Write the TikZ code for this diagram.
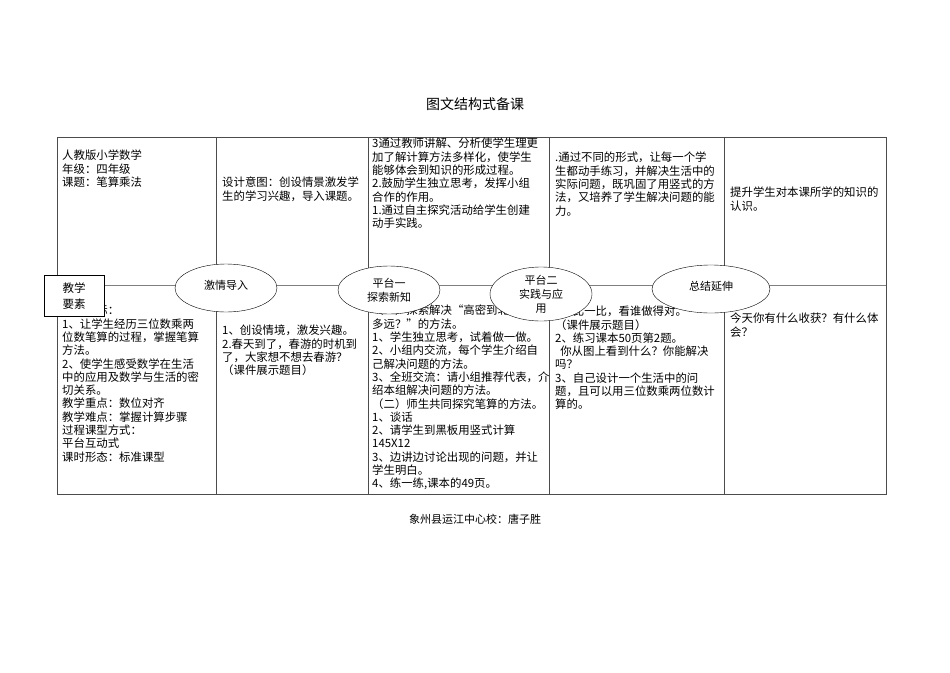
\documentclass[tikz,border=0pt]{standalone}
\usepackage{fontspec}
\setmainfont{Noto Sans CJK SC}
\usetikzlibrary{shapes.geometric}
\begin{document}
\begin{tikzpicture}[x=1pt,y=-1pt,
  txt/.style={anchor=north west,inner sep=0pt,align=left,font=\fontsize{11.4}{13.3}\selectfont},
  oval/.style={ellipse,draw,fill=white,inner sep=0pt,minimum width=102,minimum height=48,align=center,font=\fontsize{11}{14}\selectfont},
  ln/.style={draw=black!70,line width=0.6pt}]
\useasboundingbox (0,0) rectangle (950,672);
\node (title) at (475,104) {\fontsize{14}{16}\selectfont 图文结构式备课};
\node (foot) at (475,519) {\fontsize{11}{13}\selectfont 象州县运江中心校：唐子胜};
\draw[ln] (57,137) rectangle (886,494);
\draw[draw=black!50,line width=0.8pt] (57,285) -- (886,285);
\foreach \x in {216,368,549,724} \draw[ln] (\x,137) -- (\x,494);
% top cells
\node[txt] (t1) at (62,150) {人教版小学数学\\年级：四年级\\课题：笔算乘法};
\node[txt] (t2) at (222,177) {设计意图：创设情景激发学\\生的学习兴趣，导入课题。};
\node[txt] (t3) at (372,138) {3通过教师讲解、分析使学生理更\\加了解计算方法多样化，使学生\\能够体会到知识的形成过程。\\2.鼓励学生独立思考，发挥小组\\合作的作用。\\1.通过自主探究活动给学生创建\\动手实践。};
\node[txt] (t4) at (555,152) {.通过不同的形式，让每一个学\\生都动手练习，并解决生活中的\\实际问题，既巩固了用竖式的方\\法，又培养了学生解决问题的能\\力。};
\node[txt] (t5) at (730,187) {提升学生对本课所学的知识的\\认识。};
% bottom cells
\node[txt] (b1) at (62,305) {教学目标：\\1、让学生经历三位数乘两\\位数笔算的过程，掌握笔算\\方法。\\2、使学生感受数学在生活\\中的应用及数学与生活的密\\切关系。\\教学重点：数位对齐\\教学难点：掌握计算步骤\\过程课型方式：\\平台互动式\\课时形态：标准课型};
\node[txt] (b2) at (222,325) {1、创设情境，激发兴趣。\\2.春天到了，春游的时机到\\了，大家想不想去春游？\\（课件展示题目）};
\node[txt] (b3) at (372,305) {（一）探索解决“高密到北京有\\多远？”的方法。\\1、学生独立思考，试着做一做。\\2、小组内交流，每个学生介绍自\\己解决问题的方法。\\3、全班交流：请小组推荐代表，介\\绍本组解决问题的方法。\\（二）师生共同探究笔算的方法。\\1、谈话\\2、请学生到黑板用竖式计算\\145X12\\3、边讲边讨论出现的问题，并让\\学生明白。\\4、练一练,课本的49页。};
\node[txt] (b4) at (555,306) {1、比一比，看谁做得对。\\（课件展示题目）\\2、练习课本50页第2题。\\\ \ 你从图上看到什么？你能解决\\吗？\\3、自己设计一个生活中的问\\题，且可以用三位数乘两位数计\\算的。};
\node[txt] (b5) at (730,313) {今天你有什么收获？有什么体\\会？};
% ovals and box
\node[oval] (o1) at (226,288) {\raisebox{6pt}{激情导入}};
\node[oval] (o2) at (389,290) {平台一\\探索新知};
\node[oval] (o3) at (541,294) {平台二\\实践与应\\用};
\node[oval,minimum width=118] (o4) at (711,289) {\raisebox{6pt}{总结延伸}};
\node[draw,fill=white,minimum width=60,minimum height=41,inner sep=0pt,align=center,font=\fontsize{11.5}{16}\selectfont] (box) at (74,296) {教学\\要素};
\end{tikzpicture}
\end{document}
